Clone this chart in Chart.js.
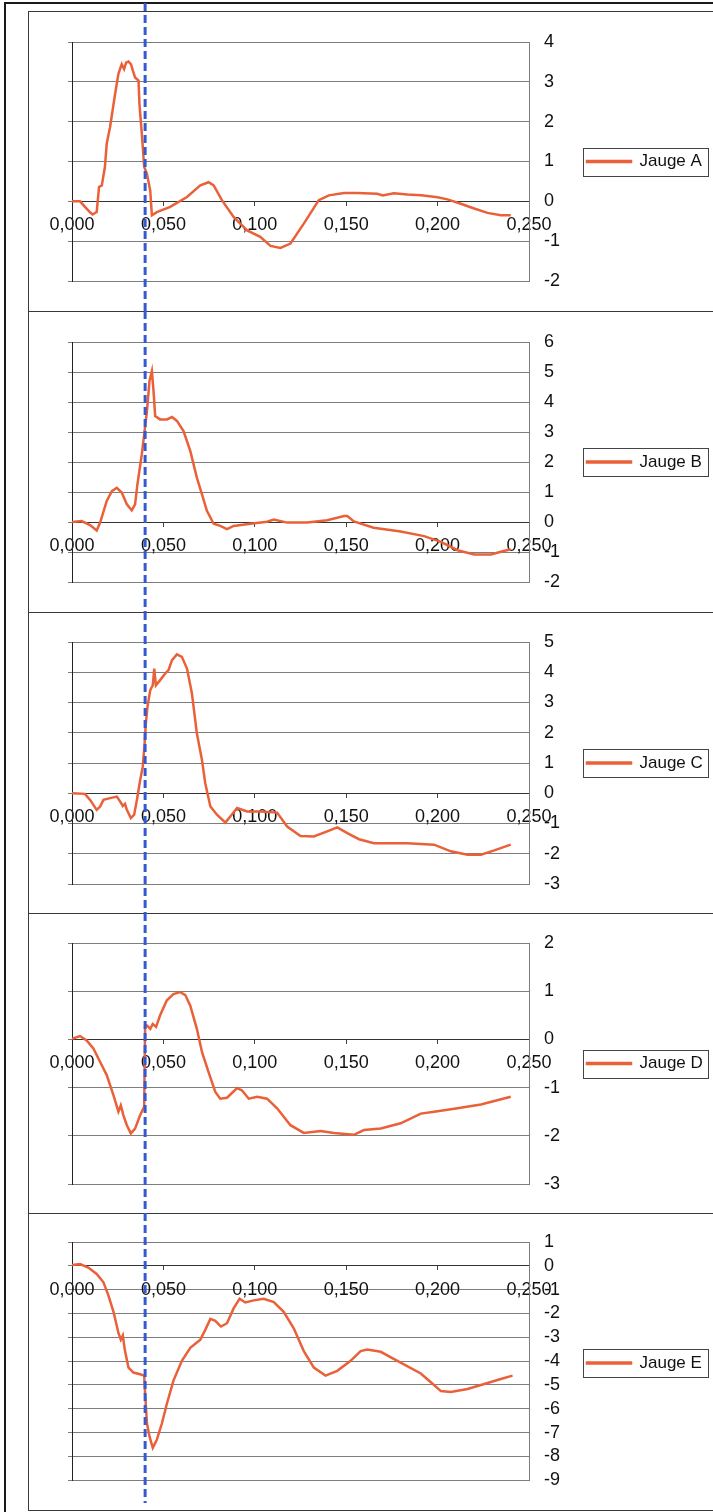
<!DOCTYPE html>
<html><head><meta charset="utf-8">
<script src="https://cdn.jsdelivr.net/npm/chart.js@4.4.0/dist/chart.umd.min.js"></script>
<style>
html,body{margin:0;padding:0;background:#fff;width:713px;height:1512px;overflow:hidden;position:relative;}
#outer{position:absolute;left:4px;top:2px;width:800px;height:1600px;border-left:2px solid #1a1a1a;border-top:2px solid #1a1a1a;}
.panel{position:absolute;left:28px;width:800px;border-left:1px solid #3a3a3a;border-top:1px solid #3a3a3a;}
canvas{position:absolute;left:0;}
</style></head><body>
<div id="outer"></div>
<div class="panel" style="top:11px;height:300px"></div>
<div class="panel" style="top:311px;height:301px"></div>
<div class="panel" style="top:612px;height:301px"></div>
<div class="panel" style="top:913px;height:300px"></div>
<div class="panel" style="top:1213px;height:296px;border-bottom:1px solid #3a3a3a"></div>
<canvas id="cA" width="713" height="311" style="top:0px"></canvas>
<canvas id="cB" width="713" height="301" style="top:311px"></canvas>
<canvas id="cC" width="713" height="301" style="top:612px"></canvas>
<canvas id="cD" width="713" height="300" style="top:913px"></canvas>
<canvas id="cE" width="713" height="293" style="top:1213px"></canvas>
<script>
// ---- data (time in s, gauge value) ----
const seriesNames = ['Jauge A','Jauge B','Jauge C','Jauge D','Jauge E'];
const yMins = [-2,-2,-3,-3,-9];
const yMaxs = [4,6,5,2,1];
const xTickMin = 0, xTickMax = 0.25, xTickStep = 0.05;
const markerTime = 0.040;

const timeA = [0,0.0044,0.0071,0.0100,0.0113,0.0135,0.0148,0.0163,0.0180,0.0190,0.0208,0.0236,0.0254,0.0272,0.0285,0.0296,0.0309,0.0323,0.0333,0.0345,0.0364,0.0369,0.0382,0.0395,0.0410,0.0428,0.0437,0.0464,0.0537,0.0629,0.0702,0.0747,0.0775,0.0820,0.0884,0.0958,0.1030,0.1086,0.1140,0.1195,0.1268,0.1350,0.1405,0.1488,0.1560,0.1670,0.1700,0.1760,0.1835,0.1910,0.2000,0.2054,0.2127,0.2200,0.2273,0.2346,0.2400];
const jaugeA = [0,0,-0.14,-0.28,-0.33,-0.27,0.36,0.40,0.86,1.45,1.86,2.70,3.20,3.44,3.32,3.48,3.51,3.44,3.28,3.11,3.03,2.44,1.69,0.86,0.69,0.27,-0.35,-0.27,-0.14,0.11,0.40,0.48,0.40,0.03,-0.39,-0.73,-0.89,-1.12,-1.17,-1.06,-0.56,0.03,0.15,0.21,0.21,0.19,0.15,0.20,0.17,0.15,0.10,0.05,-0.06,-0.18,-0.29,-0.35,-0.35];

const timeB = [0,0.0053,0.0099,0.0135,0.0154,0.0190,0.0218,0.0245,0.0272,0.0300,0.0327,0.0345,0.0358,0.0382,0.0395,0.0410,0.0424,0.0437,0.0446,0.0455,0.0482,0.0519,0.0547,0.0574,0.0610,0.0647,0.0683,0.0711,0.0738,0.0775,0.0811,0.0848,0.0884,0.0976,0.1067,0.1104,0.1177,0.1287,0.1396,0.1488,0.1506,0.1542,0.1650,0.1798,0.1926,0.2018,0.2109,0.2200,0.2292,0.2346,0.2400];
const jaugeB = [0,0.03,-0.10,-0.28,-0.02,0.70,1.03,1.14,0.98,0.59,0.39,0.59,1.26,2.26,2.92,3.70,4.70,5.03,4.37,3.53,3.42,3.42,3.50,3.37,3.03,2.37,1.48,0.92,0.37,-0.06,-0.13,-0.24,-0.13,-0.06,0.01,0.08,-0.02,-0.02,0.06,0.20,0.20,0.02,-0.19,-0.32,-0.47,-0.66,-0.94,-1.08,-1.08,-0.99,-0.91];

const timeC = [0,0.0071,0.0099,0.0135,0.0154,0.0172,0.0208,0.0245,0.0263,0.0278,0.0290,0.0300,0.0322,0.0340,0.0355,0.0373,0.0387,0.0396,0.0404,0.0413,0.0428,0.0442,0.0450,0.0459,0.0482,0.0510,0.0528,0.0547,0.0574,0.0601,0.0629,0.0656,0.0683,0.0711,0.0729,0.0757,0.0793,0.0839,0.0866,0.0903,0.0958,0.1031,0.1122,0.1177,0.1250,0.1323,0.1396,0.1451,0.1506,0.1570,0.1652,0.1835,0.1981,0.2072,0.2164,0.2237,0.2310,0.2400];
const jaugeC = [0,-0.02,-0.22,-0.55,-0.44,-0.22,-0.16,-0.11,-0.27,-0.42,-0.35,-0.55,-0.82,-0.71,-0.22,0.44,0.88,1.54,2.31,2.86,3.41,3.57,4.12,3.57,3.74,3.96,4.07,4.40,4.59,4.51,4.12,3.30,1.98,1.10,0.33,-0.44,-0.71,-0.97,-0.77,-0.49,-0.60,-0.60,-0.64,-1.10,-1.41,-1.43,-1.26,-1.13,-1.32,-1.52,-1.65,-1.65,-1.70,-1.92,-2.03,-2.03,-1.89,-1.70];

const timeD = [0,0.0044,0.0080,0.0117,0.0154,0.0190,0.0227,0.0254,0.0267,0.0281,0.0300,0.0322,0.0345,0.0373,0.0395,0.0400,0.0410,0.0428,0.0442,0.0460,0.0482,0.0519,0.0555,0.0592,0.0620,0.0647,0.0683,0.0711,0.0747,0.0784,0.0811,0.0848,0.0903,0.0930,0.0967,0.1013,0.1067,0.1122,0.1195,0.1268,0.1360,0.1433,0.1542,0.1597,0.1689,0.1798,0.1908,0.1981,0.2109,0.2237,0.2400];
const jaugeD = [0.01,0.07,-0.02,-0.19,-0.47,-0.74,-1.16,-1.50,-1.37,-1.57,-1.78,-1.95,-1.85,-1.57,-1.40,0.29,0.29,0.22,0.32,0.26,0.50,0.81,0.94,0.98,0.92,0.70,0.22,-0.26,-0.68,-1.09,-1.23,-1.21,-1.01,-1.06,-1.23,-1.19,-1.23,-1.43,-1.78,-1.94,-1.90,-1.94,-1.98,-1.88,-1.85,-1.74,-1.54,-1.50,-1.43,-1.35,-1.19];

const timeE = [0,0.0044,0.0089,0.0135,0.0172,0.0199,0.0227,0.0254,0.0267,0.0278,0.0290,0.0309,0.0336,0.0373,0.0395,0.0400,0.0410,0.0424,0.0442,0.0464,0.0492,0.0519,0.0555,0.0601,0.0647,0.0702,0.0729,0.0757,0.0784,0.0815,0.0848,0.0884,0.0917,0.0948,0.0994,0.1049,0.1104,0.1158,0.1213,0.1268,0.1323,0.1387,0.1451,0.1524,0.1579,0.1615,0.1689,0.1780,0.1908,0.1963,0.2018,0.2072,0.2164,0.2255,0.2346,0.2410];
const jaugeE = [0.03,0.07,-0.07,-0.34,-0.69,-1.24,-1.93,-2.82,-3.10,-2.92,-3.58,-4.27,-4.48,-4.55,-4.61,-5.37,-6.61,-7.16,-7.64,-7.30,-6.61,-5.79,-4.82,-3.99,-3.44,-3.10,-2.69,-2.23,-2.31,-2.55,-2.41,-1.79,-1.38,-1.54,-1.45,-1.38,-1.52,-1.93,-2.62,-3.58,-4.27,-4.61,-4.41,-3.99,-3.58,-3.51,-3.61,-3.99,-4.52,-4.89,-5.26,-5.30,-5.17,-4.96,-4.75,-4.61];

const allTimes = [timeA,timeB,timeC,timeD,timeE];
const allValues = [jaugeA,jaugeB,jaugeC,jaugeD,jaugeE];

// ---- layout / style ----
const canvasIds = ['cA','cB','cC','cD','cE'];
const padTop = [42,31,30,30,29];
const padBottom = [30,30,29,29,22];
const markerY0 = [3,0,0,0,0];
const markerY1 = [311,301,301,300,290];
const LINE_COLOR = '#EA6039';
const GRID = '#7d7d7d';
const FONT = "'Liberation Sans', Arial, sans-serif";
Chart.defaults.font.family = FONT;

const markerPlugin = {
  id: 'marker',
  afterDatasetsDraw(chart, args, opts) {
    const ctx = chart.ctx;
    const x = chart.scales.x.getPixelForValue(markerTime);
    ctx.save();
    ctx.strokeStyle = '#3559cf';
    ctx.lineWidth = 3;
    ctx.setLineDash([8, 4]);
    ctx.beginPath();
    ctx.moveTo(x, opts.y0);
    ctx.lineTo(x, opts.y1);
    ctx.stroke();
    ctx.restore();
  }
};
const legendBoxPlugin = {
  id: 'legendBox',
  afterDraw(chart) {
    const lg = chart.legend;
    if (!lg || !lg.legendHitBoxes || !lg.legendHitBoxes.length) return;
    const hb = lg.legendHitBoxes[0];
    const cy = hb.top + hb.height / 2;
    const ctx = chart.ctx;
    ctx.save();
    ctx.strokeStyle = '#444';
    ctx.lineWidth = 1;
    ctx.strokeRect(Math.round(lg.left) + 0.5, Math.round(cy - 14) + 0.5, 125, 28);
    ctx.restore();
  }
};

for (let i = 0; i < 5; i++) {
  const pts = allTimes[i].map((t, k) => ({x: t, y: allValues[i][k]}));
  new Chart(document.getElementById(canvasIds[i]), {
    type: 'line',
    data: { datasets: [{
      label: seriesNames[i], data: pts, borderColor: LINE_COLOR, backgroundColor: LINE_COLOR,
      borderWidth: 2.5, pointRadius: 0, tension: 0, yAxisID: 'y', xAxisID: 'x'
    }]},
    options: {
      responsive: false, animation: false, devicePixelRatio: 1,
      layout: { padding: { left: 68, right: 2, top: padTop[i], bottom: padBottom[i] } },
      plugins: {
        legend: { position: 'right', maxWidth: 128,
          labels: { boxWidth: 44, boxHeight: 1, padding: 4, color: '#111', font: { size: 17, family: FONT } } },
        tooltip: { enabled: false },
        marker: { y0: markerY0[i], y1: markerY1[i] }
      },
      scales: {
        x: { type: 'linear', position: { y: 0 }, min: xTickMin, max: xTickMax,
          ticks: { stepSize: xTickStep, autoSkip: false, maxRotation: 0, padding: 9, color: '#111',
            font: { size: 18, family: FONT }, callback: v => v.toFixed(3).replace('.', ',') },
          grid: { drawOnChartArea: false, drawTicks: true, tickLength: 4, tickColor: '#444' },
          border: { color: '#333', width: 1 } },
        y: { position: 'right', min: yMins[i], max: yMaxs[i],
          ticks: { stepSize: 1, autoSkip: false, padding: 15, color: '#111', font: { size: 18, family: FONT } },
          grid: { color: GRID, drawTicks: false }, border: { color: GRID },
          afterFit: s => { s.width = 54; } },
        yl: { position: 'left', min: yMins[i], max: yMaxs[i],
          ticks: { display: false, stepSize: 1, autoSkip: false },
          grid: { drawOnChartArea: false, tickLength: 4, tickColor: GRID }, border: { color: '#222' },
          afterFit: s => { s.width = 4; } }
      }
    },
    plugins: [markerPlugin, legendBoxPlugin]
  });
}
</script>
</body></html>
